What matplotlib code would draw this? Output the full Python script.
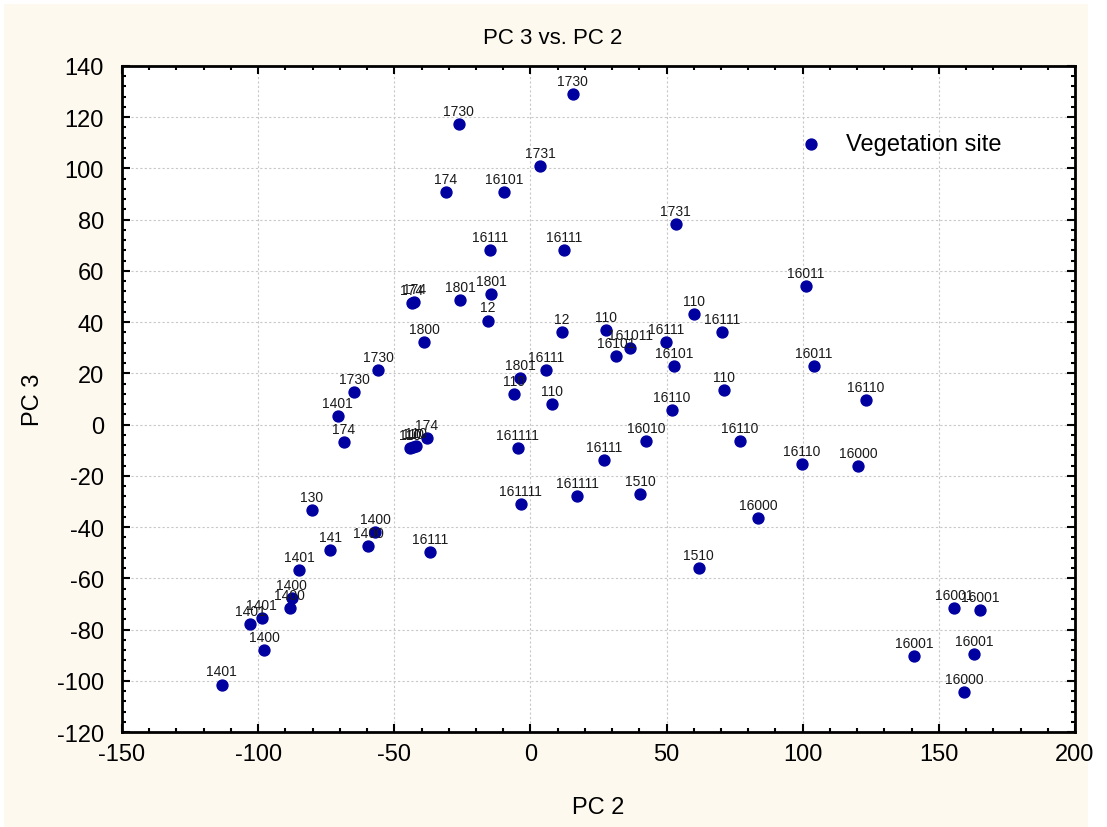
import numpy as np
import matplotlib
matplotlib.use('Agg')
import matplotlib.pyplot as plt
from matplotlib.ticker import AutoMinorLocator
from matplotlib.patches import Rectangle

plt.rcParams['font.family'] = ['Liberation Sans', 'DejaVu Sans']
plt.rcParams['axes.unicode_minus'] = False

############################################################################
#                               Data
############################################################################

pc2 = [15.6, -26.3, 3.5, -31.0, -9.7, 53.4, -14.8, 12.4,
       -43.6, -42.7, -39.0, -56.0, -64.8, -70.8, -68.6, -38.0,
       -44.4, -43.0, -42.0,
       -25.7, -14.3, -15.7, 11.6, 27.9, 36.6, 31.5, 49.8, 60.1, 70.4,
       52.7, 5.7, -3.8, -5.9, 8.0, 52.0, 71.1, -4.6, 42.6, 27.0, 76.9,
       101.2, 104.1, 123.2, 99.8, 120.4,
       -3.5, 17.1, 40.2, 83.6, 61.8,
       -80.3, -57.0, -59.5, -73.6, -37.0, -84.9, -87.6, -88.4, -98.7,
       -103.0, -97.7, -113.4,
       155.7, 165.2, 141.0, 162.9, 159.3]

pc3 = [129.1, 117.3, 100.9, 90.8, 90.8, 78.2, 68.1, 68.1,
       47.4, 47.7, 32.1, 21.2, 12.6, 3.2, -6.9, -5.3,
       -9.3, -8.8, -8.5,
       48.5, 51.0, 40.6, 36.0, 36.8, 29.8, 26.7, 32.1, 43.1, 36.0,
       22.8, 21.2, 18.1, 11.8, 7.9, 5.6, 13.4, -9.3, -6.3, -13.9, -6.3,
       54.0, 22.8, 9.5, -15.5, -16.3,
       -31.0, -27.9, -27.1, -36.5, -56.0,
       -33.5, -42.0, -47.5, -49.0, -49.9, -56.9, -67.8, -71.6, -75.6,
       -78.0, -88.1, -101.5,
       -71.7, -72.5, -90.5, -89.7, -104.5]

site = ['1730', '1730', '1731', '174', '16101', '1731', '16111', '16111',
        '174', '174', '1800', '1730', '1730', '1401', '174', '174',
        '110', '110', '110',
        '1801', '1801', '12', '12', '110', '161011', '16101', '16111', '110', '16111',
        '16101', '16111', '1801', '110', '110', '16110', '110', '161111', '16010', '16111', '16110',
        '16011', '16011', '16110', '16110', '16000',
        '161111', '161111', '1510', '16000', '1510',
        '130', '1400', '1400', '141', '16111', '1401', '1400', '1400', '1401',
        '1401', '1400', '1401',
        '16001', '16001', '16001', '16001', '16000']

xticks = [-150, -100, -50, 0, 50, 100, 150, 200]
yticks = [-120, -100, -80, -60, -40, -20, 0, 20, 40, 60, 80, 100, 120, 140]

############################################################################
#                               Plot
############################################################################

fig = plt.figure(figsize=(11.07, 8.28), dpi=100, facecolor='white')
# cream background panel (white strip on top and right like the original)
bg = Rectangle((4/1107, 0), 1084/1107, 1 - 5/828, transform=fig.transFigure,
               facecolor='#FEF9EE', edgecolor='none', zorder=-10)
fig.add_artist(bg)

ax = fig.add_axes([122/1107, 1 - 733/828, 953/1107, 666/828])
ax.set_facecolor('white')

ax.scatter(pc2, pc3, s=62, color='#0000A0', zorder=3, label='Vegetation site')
for x, y, s in zip(pc2, pc3, site):
    ax.annotate(s, (x, y), xytext=(0, 4.5), textcoords='offset points',
                ha='center', va='bottom', fontsize=10, color='#1a1a1a', zorder=4)

ax.set_xlim(-150, 200)
ax.set_ylim(-120, 140)
ax.set_xticks(xticks)
ax.set_yticks(yticks)
ax.xaxis.set_minor_locator(AutoMinorLocator(5))
ax.yaxis.set_minor_locator(AutoMinorLocator(5))
ax.tick_params(which='both', direction='in', top=True, right=True, width=1.5, color='black')
ax.tick_params(which='major', length=6, labelsize=17)
ax.tick_params(axis='y', which='major', pad=13)
ax.tick_params(axis='x', which='major', pad=8)
ax.tick_params(which='minor', length=3)
ax.grid(True, which='major', linestyle=(0, (2, 2)), color='#c8c8c8', linewidth=0.8)
ax.set_axisbelow(True)
for sp in ax.spines.values():
    sp.set_linewidth(2)

# title is centred on the whole figure, not on the axes
fig.text(553/1107, 1 - 38/828, 'PC 3 vs. PC 2', ha='center', va='center', fontsize=16)
ax.set_xlabel('PC 2', fontsize=17, labelpad=22)
ax.set_ylabel('PC 3', fontsize=17, labelpad=9)

ax.legend(loc='center left', bbox_to_anchor=((799 - 122)/953, (733 - 145)/666),
          frameon=False, fontsize=17, handlelength=1.0, handletextpad=1.0,
          borderpad=0, borderaxespad=0, markerscale=1.0)

fig.savefig('out.png', dpi=100, facecolor=fig.get_facecolor())
